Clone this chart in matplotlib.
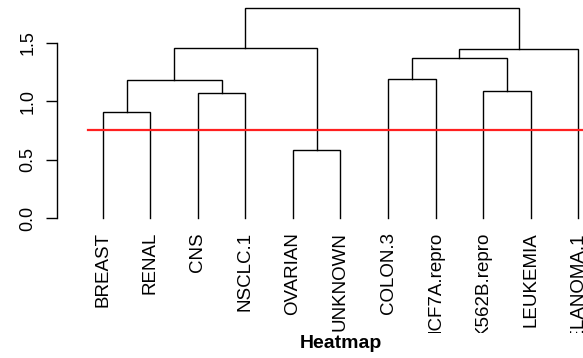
"""Hierarchical clustering dendrogram of tumour types, with a cut line."""

import matplotlib

matplotlib.use("Agg")
import matplotlib.pyplot as plt
from matplotlib.transforms import Bbox, blended_transform_factory

plt.rcParams["font.family"] = ["Liberation Sans", "DejaVu Sans"]

# leaf labels, in plotted order
leaves = ["BREAST", "RENAL", "CNS", "NSCLC.1", "OVARIAN", "UNKNOWN",
          "COLON.3", "MCF7A.repro", "K562B.repro", "LEUKEMIA", "MELANOMA.1"]
# merges in R hclust style: negative = leaf (1-based), positive = earlier merge
merge_a = [-5, -1, -3, -9, 2, -7, 6, 7, 5, 9]
merge_b = [-6, -2, -4, -10, 3, -8, 4, -11, 1, 8]
heights = [0.58, 0.91, 1.07, 1.09, 1.18, 1.19, 1.37, 1.45, 1.46, 1.80]
cut_height = 0.75
yticks = [0.0, 0.5, 1.0, 1.5]

W, H, DPI = 583, 358, 100
fig = plt.figure(figsize=(W / DPI, H / DPI), dpi=DPI)
ax = fig.add_axes([57 / W, (H - 225) / H, 1 - 57 / W, 225 / H])
ax.set_xlim(0.032, 11.105)
ax.set_ylim(-0.06, 1.868)


def node_pos(ref, centres):
    # x centre and height of a leaf or merge
    if ref < 0:
        return float(-ref), 0.0
    return centres[ref - 1], heights[ref - 1]


centres = []
for a, b, h in zip(merge_a, merge_b, heights):
    xa, ya = node_pos(a, centres)
    xb, yb = node_pos(b, centres)
    ax.plot([xa, xa, xb, xb], [ya, h, h, yb], color="black", lw=1.0,
            solid_joinstyle="miter", clip_on=False)
    centres.append((xa + xb) / 2)

ax.axhline(cut_height, xmin=0.058, xmax=1.0, color="#ff2020", lw=1.6)

for side in ("top", "right", "bottom"):
    ax.spines[side].set_visible(False)
ax.spines["left"].set_bounds(yticks[0], yticks[-1])
ax.spines["left"].set_linewidth(1.0)
ax.set_xticks([])
ax.set_yticks(yticks)
ax.set_yticklabels([f"{v:.1f}" for v in yticks])
ax.tick_params(axis="y", length=8, width=1.0, pad=7, labelsize=13,
               labelrotation=90, colors="black")
for lab in ax.get_yticklabels():
    lab.set_va("center")

# leaf labels under the tree, clipped like the original device region
trans = blended_transform_factory(ax.transData, ax.transData)
clip = Bbox.from_extents(0, H - 333, W, H)
for i, name in enumerate(leaves, start=1):
    t = fig.text(i, -0.12, name, transform=trans, rotation=90,
                 ha="center", va="top", fontsize=13.5)
    t.set_clip_box(clip)
    t.set_clip_on(True)

fig.text(341 / W, (H - 343) / H, "Heatmap", ha="center", va="center",
         fontsize=14, fontweight="bold")

fig.savefig("out.png", dpi=DPI)
